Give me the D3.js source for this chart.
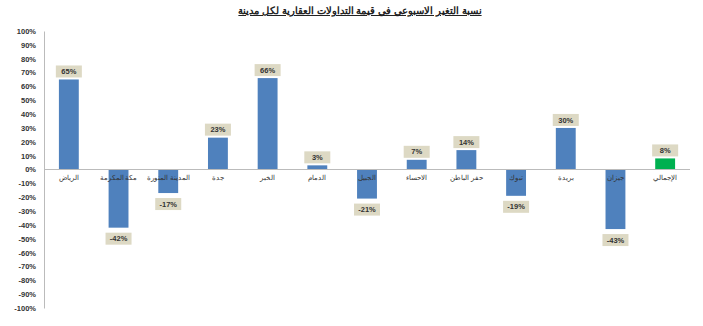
<!DOCTYPE html>
<html>
<head>
<meta charset="utf-8">
<script src="https://cdn.jsdelivr.net/npm/d3@7"></script>
<style>
  body { margin: 0; background: #fff; }
  svg { display: block; font-family: "Liberation Sans", Arial, sans-serif; }
</style>
</head>
<body>
<div id="chart"></div>
<script>
// chart data
const cities = ["الرياض", "مكة المكرمة", "المدينة المنورة", "جدة", "الخبر", "الدمام", "الجبيل",
  "الاحساء", "حفر الباطن", "تبوك", "بريدة", "جيزان", "الإجمالي"];
const changes = [65, -42, -17, 23, 66, 3, -21, 7, 14, -19, 30, -43, 8];
const yTicks = d3.range(-100, 101, 10);
const title = "نسبة التغير الاسبوعي في قيمة التداولات العقارية لكل مدينة";

const width = 703, height = 326;
const margin = { top: 31, right: 13, bottom: 18, left: 44 };

const svg = d3.select("#chart").append("svg")
  .attr("width", width)
  .attr("height", height);

const x = d3.scaleBand()
  .domain(cities)
  .range([margin.left, width - margin.right])
  .paddingInner(0.6)
  .paddingOuter(0.3);

const y = d3.scaleLinear()
  .domain([-100, 100])
  .range([height - margin.bottom, margin.top]);

// title
svg.append("text")
  .attr("x", 360)
  .attr("y", 14)
  .attr("text-anchor", "middle")
  .attr("direction", "rtl")
  .attr("font-size", 10)
  .attr("font-weight", "bold")
  .attr("text-decoration", "underline")
  .attr("fill", "#222")
  .text(title);

// y axis
const yAxis = svg.append("g")
  .attr("transform", `translate(${margin.left},0)`)
  .call(d3.axisLeft(y).tickValues(yTicks).tickSize(0).tickPadding(8)
    .tickFormat(d => d + "%"));
yAxis.select(".domain").attr("stroke", "#bbb");
yAxis.selectAll("text")
  .attr("font-size", 7.5)
  .attr("font-weight", "bold")
  .attr("fill", "#333");

// bars
svg.append("g").selectAll("rect")
  .data(changes)
  .join("rect")
  .attr("x", (d, i) => x(cities[i]))
  .attr("width", x.bandwidth())
  .attr("y", d => y(Math.max(0, d)))
  .attr("height", d => Math.abs(y(d) - y(0)))
  .attr("fill", (d, i) => i === cities.length - 1 ? "#00b050" : "#4f81bd");

// zero line
svg.append("line")
  .attr("x1", margin.left)
  .attr("x2", width - margin.right)
  .attr("y1", y(0))
  .attr("y2", y(0))
  .attr("stroke", "#bbb");

// category labels under the zero line
svg.append("g").selectAll("text")
  .data(cities)
  .join("text")
  .attr("x", d => x(d) + x.bandwidth() / 2)
  .attr("y", y(0) + 10)
  .attr("text-anchor", "middle")
  .attr("direction", "rtl")
  .attr("font-size", 6.5)
  .attr("fill", "#333")
  .text(d => d);

// value labels with beige boxes
const lbl = svg.append("g").selectAll("g")
  .data(changes)
  .join("g")
  .attr("transform", (d, i) => {
    const cx = x(cities[i]) + x.bandwidth() / 2;
    const cy = d >= 0 ? y(d) - 8 : y(d) + 11;
    return `translate(${cx},${cy})`;
  });

lbl.append("rect")
  .attr("x", -13)
  .attr("y", -6)
  .attr("width", 26)
  .attr("height", 12)
  .attr("fill", "#ddd9c4");

lbl.append("text")
  .attr("text-anchor", "middle")
  .attr("dy", "0.35em")
  .attr("font-size", 7.5)
  .attr("font-weight", "bold")
  .attr("fill", "#333")
  .text(d => d + "%");
</script>
</body>
</html>
